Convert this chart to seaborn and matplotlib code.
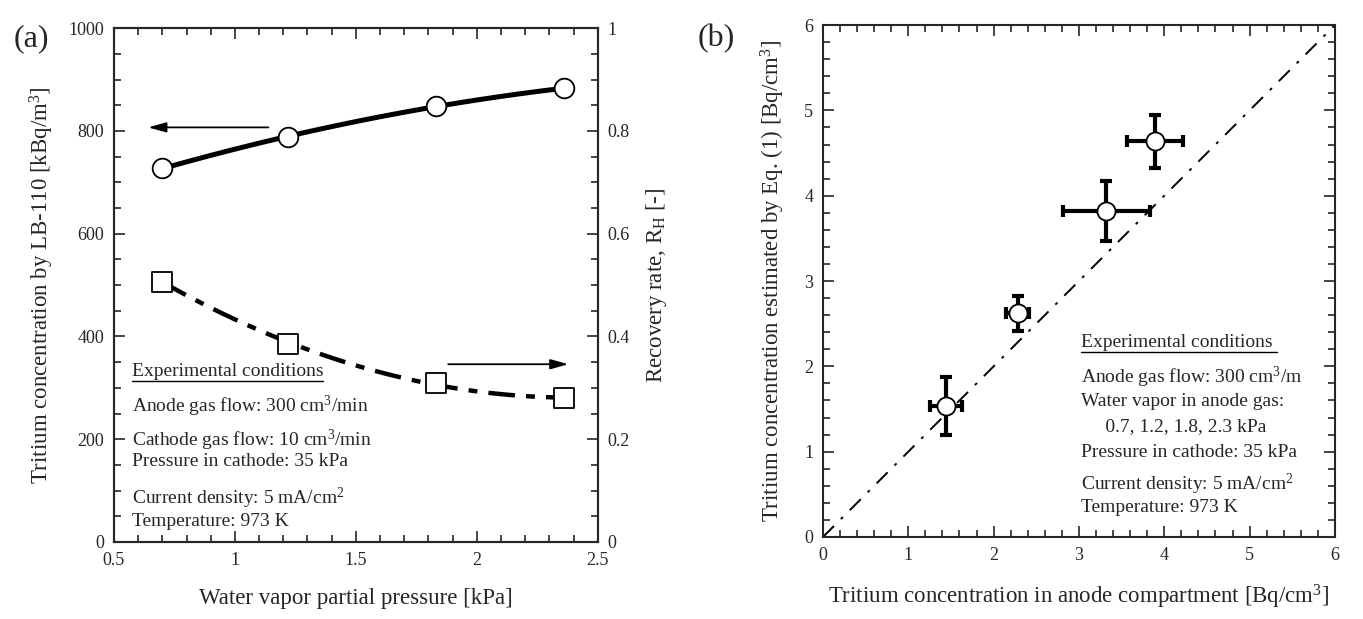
import numpy as np
import pandas as pd
import matplotlib.pyplot as plt
import seaborn as sns
from matplotlib.ticker import MultipleLocator

# panel (a) data
pw = [0.70, 1.22, 1.83, 2.36]            # water vapor partial pressure [kPa]
conc = [727, 789, 848, 883]              # tritium conc. by LB-110 [kBq/m3]
rh = [0.507, 0.386, 0.309, 0.280]        # recovery rate R_H [-]

# panel (b) data
x_an = [1.44, 2.28, 3.32, 3.89]          # conc. in anode compartment
x_err = [0.19, 0.13, 0.51, 0.33]
y_eq = [1.54, 2.62, 3.82, 4.64]          # conc. estimated by Eq. (1)
y_err = [0.34, 0.21, 0.35, 0.31]

sns.set_theme(style="ticks")
plt.rcParams["font.family"] = ["Liberation Serif", "DejaVu Serif"]
plt.rcParams["mathtext.fontset"] = "custom"
plt.rcParams["mathtext.rm"] = "Liberation Serif"
plt.rcParams["mathtext.it"] = "Liberation Serif:italic"
plt.rcParams["axes.linewidth"] = 1.5
plt.rcParams["xtick.direction"] = "in"
plt.rcParams["ytick.direction"] = "in"

fig = plt.figure(figsize=(13.63, 6.19), dpi=100)
ax1 = fig.add_axes([0.0836, 0.1244, 0.355, 0.830])
ax2 = ax1.twinx()
ax3 = fig.add_axes([0.6038, 0.1325, 0.3756, 0.827])

da = pd.DataFrame({"p": pw, "c": conc, "r": rh})

# fitted curves
xs = np.linspace(min(pw), max(pw), 100)
fit_c = np.polyval(np.polyfit(pw, conc, 2), xs)
fit_r = np.polyval(np.polyfit(pw, rh, 2), xs)
sns.lineplot(x=xs, y=fit_c, ax=ax1, color="black", lw=3.6, zorder=2)
sns.lineplot(x=xs, y=fit_r, ax=ax2, color="black", lw=3.2, zorder=2,
             dashes=False, linestyle=(0, (6, 2.5, 2, 2.5)))
sns.scatterplot(data=da, x="p", y="c", ax=ax1, marker="o", s=200,
                facecolor="white", edgecolor="black", linewidth=1.3, zorder=3)
sns.scatterplot(data=da, x="p", y="r", ax=ax2, marker="s", s=220,
                facecolor="white", edgecolor="black", linewidth=1.3, zorder=3)

ax1.set_xlim(0.5, 2.5)
ax1.set_ylim(0, 1000)
ax2.set_ylim(0, 1)
ax1.xaxis.set_major_locator(MultipleLocator(0.5))
ax1.xaxis.set_minor_locator(MultipleLocator(0.1))
ax1.yaxis.set_major_locator(MultipleLocator(200))
ax1.yaxis.set_minor_locator(MultipleLocator(50))
ax2.yaxis.set_major_locator(MultipleLocator(0.2))
ax2.yaxis.set_minor_locator(MultipleLocator(0.05))
ax1.set_xticks([0.5, 1, 1.5, 2, 2.5], ["0.5", "1", "1.5", "2", "2.5"])
ax2.set_yticks([0, 0.2, 0.4, 0.6, 0.8, 1], ["0", "0.2", "0.4", "0.6", "0.8", "1"])
ax1.tick_params(which="both", top=True, labelsize=13, width=1.2, pad=7)
ax1.tick_params(which="major", length=8)
ax1.tick_params(which="minor", length=5)
ax2.tick_params(which="both", labelsize=13, width=1.2, pad=7)
ax2.tick_params(which="major", length=8)
ax2.tick_params(which="minor", length=5)
ax1.set_xlabel("Water vapor partial pressure [kPa]", fontsize=16.5, labelpad=14)
ax1.set_ylabel("Tritium concentration by LB-110 [kBq/m$^3$]", fontsize=16.5, labelpad=9)
ax2.set_ylabel("Recovery rate, R$_\\mathrm{H}$ [-]", fontsize=16.5, labelpad=10)
ax1.set_zorder(ax2.get_zorder() + 1)
ax1.patch.set_visible(False)

ax1.annotate("", xy=(0.63, 807), xytext=(1.15, 807),
             arrowprops=dict(arrowstyle="-|>,head_length=0.9,head_width=0.25",
                             lw=1.3, color="black"))
ax2.annotate("", xy=(2.39, 0.346), xytext=(1.87, 0.346),
             arrowprops=dict(arrowstyle="-|>,head_length=0.9,head_width=0.25",
                             lw=1.3, color="black"))

fs = 14
ax1.text(0.037, 0.331, "Experimental conditions", transform=ax1.transAxes,
         fontsize=fs, va="center")
ax1.plot([0.037, 0.432], [0.313, 0.313], transform=ax1.transAxes,
         color="black", lw=1.0)
cond_a = ["Anode gas flow: 300 cm$^3$/min", "Cathode gas flow: 10 cm$^3$/min",
          "Pressure in cathode: 35 kPa", "Current density: 5 mA/cm$^2$",
          "Temperature: 973 K"]
ya = [0.263, 0.198, 0.156, 0.084, 0.040]
for t, y in zip(cond_a, ya):
    ax1.text(0.037, y, t, transform=ax1.transAxes, fontsize=fs, va="center")

# panel (b)
db = pd.DataFrame({"x": x_an, "y": y_eq})
line = np.array([0, 6])
sns.lineplot(x=line, y=line, ax=ax3, color="black", lw=1.4,
             linestyle=(0, (8, 5, 1.5, 5)), zorder=1)
ax3.errorbar(x_an, y_eq, xerr=x_err, yerr=y_err, fmt="none", ecolor="black",
             elinewidth=3, capsize=4, capthick=3, zorder=2)
sns.scatterplot(data=db, x="x", y="y", ax=ax3, marker="o", s=170,
                facecolor="white", edgecolor="black", linewidth=1.3, zorder=3)
ax3.set_xlim(0, 6)
ax3.set_ylim(0, 6)
for a in (ax3.xaxis, ax3.yaxis):
    a.set_major_locator(MultipleLocator(1))
    a.set_minor_locator(MultipleLocator(0.2))
ax3.tick_params(which="both", top=True, right=True, labelsize=13, width=1.2, pad=7)
ax3.tick_params(which="major", length=8)
ax3.tick_params(which="minor", length=5)
ax3.set_xlabel("Tritium concentration in anode compartment [Bq/cm$^3$]",
               fontsize=16.5, labelpad=14)
ax3.set_ylabel("Tritium concentration estimated by Eq. (1) [Bq/cm$^3$]",
               fontsize=16.5, labelpad=12)

ax3.text(0.504, 0.379, "Experimental conditions", transform=ax3.transAxes,
         fontsize=fs, va="center")
ax3.plot([0.504, 0.887], [0.362, 0.362], transform=ax3.transAxes,
         color="black", lw=1.0)
cond_b = ["Anode gas flow: 300 cm$^3$/m", "Water vapor in anode gas:",
          "     0.7, 1.2, 1.8, 2.3 kPa", "Pressure in cathode: 35 kPa",
          "Current density: 5 mA/cm$^2$", "Temperature: 973 K"]
yb = [0.311, 0.264, 0.215, 0.166, 0.102, 0.057]
for t, y in zip(cond_b, yb):
    ax3.text(0.504, y, t, transform=ax3.transAxes, fontsize=fs, va="center")

fig.text(0.010, 0.925, "(a)", fontsize=23)
fig.text(0.512, 0.925, "(b)", fontsize=23)

fig.savefig("out.png", dpi=100)
